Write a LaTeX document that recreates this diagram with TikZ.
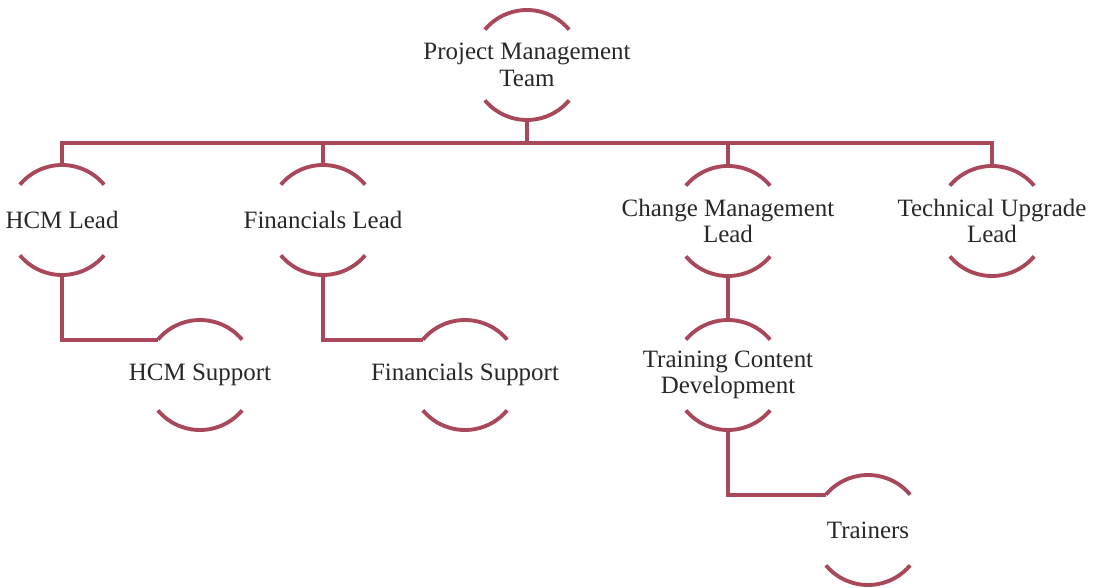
\documentclass[tikz,border=0pt]{standalone}
\usepackage{fontspec}
\setmainfont{Liberation Serif}
\definecolor{OrgRose}{RGB}{168, 72, 90}
\definecolor{OrgInk}{RGB}{40, 40, 40}
\usetikzlibrary{calc}

\begin{document}
\begin{tikzpicture}[
    lbl/.style={align=center, text=OrgInk, inner sep=0pt,
      font=\fontsize{14.2pt}{15.2pt}\selectfont},
    arcline/.style={draw=OrgRose, line width=2.2pt},
    link/.style={draw=OrgRose, line width=2.2pt}
  ]
  \useasboundingbox (0,0) rectangle (21.88,-11.76);
  \def\rad{1.1}
  % top level and leads
  \node[lbl] (pmt)  at (10.54, -1.30) {Project Management\\Team};
  \node[lbl] (hcm)  at (1.24, -4.40)  {HCM Lead};
  \node[lbl] (fin)  at (6.46, -4.40)  {Financials Lead};
  \node[lbl] (chg)  at (14.56, -4.42) {Change Management\\Lead};
  \node[lbl] (tech) at (19.84, -4.42) {Technical Upgrade\\Lead};
  % second and third level
  \node[lbl] (hcms) at (4.00, -7.50)  {HCM Support};
  \node[lbl] (fins) at (9.30, -7.50)  {Financials Support};
  \node[lbl] (tcd)  at (14.56, -7.50) {Training Content\\Development};
  \node[lbl] (trn)  at (17.36, -10.60) {Trainers};

  % a pair of arcs round every box, plus its attach points
  \foreach \n in {pmt,hcm,fin,chg,tech,hcms,fins,tcd,trn} {
    \draw[arcline] ($(\n)+(40:\rad)$) arc[start angle=40, end angle=140, radius=\rad];
    \draw[arcline] ($(\n)+(220:\rad)$) arc[start angle=220, end angle=320, radius=\rad];
    \coordinate (\n-top) at ($(\n)+(0,\rad)$);
    \coordinate (\n-bot) at ($(\n)+(0,-\rad)$);
    \coordinate (\n-in) at ($(\n)+(140:\rad)$);
  }

  \coordinate (bus) at ($(pmt-bot)+(0,-0.46)$);
  \draw[link] (pmt-bot) -- (bus);
  \foreach \n in {hcm,fin,chg,tech}
    \draw[link] (bus) -| (\n-top);

  \draw[link] (hcm-bot) |- (hcms-in);
  \draw[link] (fin-bot) |- (fins-in);
  \draw[link] (chg-bot) -- (tcd-top);
  \draw[link] (tcd-bot) |- (trn-in);
\end{tikzpicture}
\end{document}
